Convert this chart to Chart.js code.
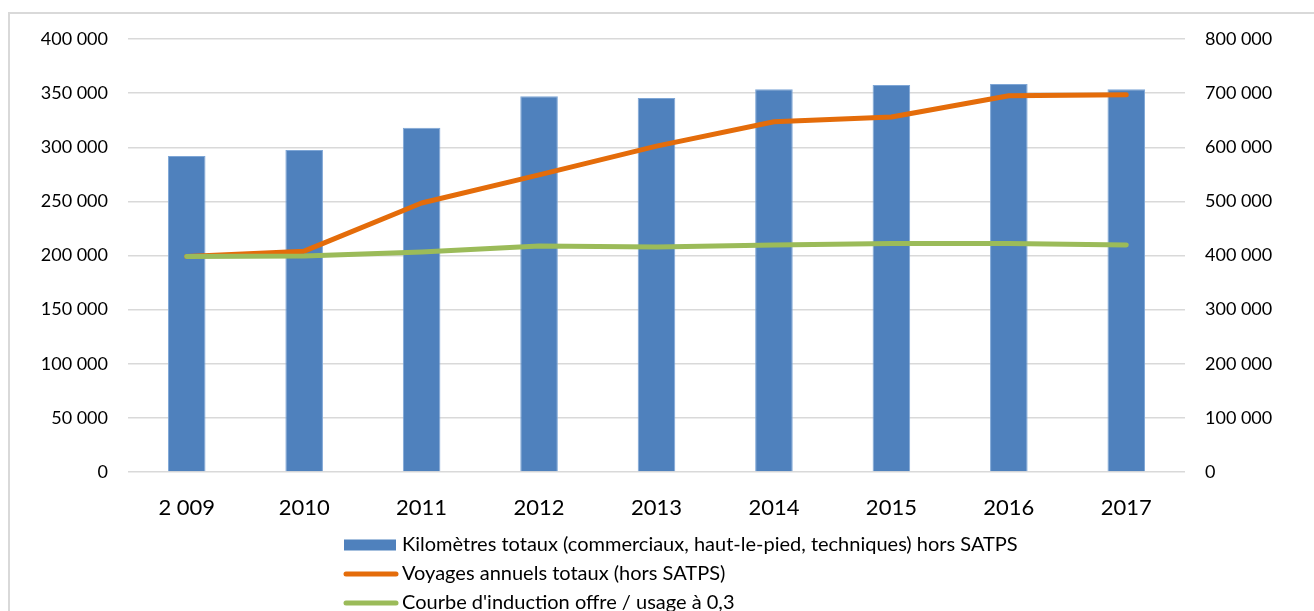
<!DOCTYPE html>
<html>
<head>
<meta charset="utf-8">
<script src="https://cdn.jsdelivr.net/npm/chart.js@4/dist/chart.umd.min.js"></script>
<style>
  body { margin: 0; background: #fff; }
  #wrap { width: 1314px; height: 611px; }
</style>
</head>
<body>
<div id="wrap"><canvas id="grafico" width="1314" height="611"></canvas></div>
<script>
const annees = ['2 009', '2010', '2011', '2012', '2013', '2014', '2015', '2016', '2017'];
const kilometres = [292000, 297500, 318000, 347000, 345500, 353500, 357500, 358500, 353500];
const voyages = [398000, 408000, 497000, 549000, 602000, 647000, 656000, 695000, 697000];
const induction = [398000, 399000, 406500, 417500, 415500, 419500, 422000, 422000, 419500];

const nomKm = 'Kilomètres totaux (commerciaux, haut-le-pied, techniques) hors SATPS';
const nomVoyages = 'Voyages annuels totaux (hors SATPS)';
const nomInduction = "Courbe d'induction offre / usage à 0,3";

const police = 'Lato, "Open Sans", sans-serif';

function milliers(v) {
    return String(v).replace(/\B(?=(\d{3})+(?!\d))/g, ' ');
}

// cadre gris autour du graphique
const cadre = {
    id: 'cadre',
    beforeDraw(chart) {
        const ctx = chart.ctx;
        ctx.save();
        ctx.strokeStyle = '#d9d9d9';
        ctx.lineWidth = 2;
        ctx.beginPath();
        ctx.moveTo(9, 620);
        ctx.lineTo(9, 13);
        ctx.lineTo(1320, 13);
        ctx.stroke();
        ctx.restore();
    }
};

// légende verticale, alignée à gauche
const legende = {
    id: 'legende',
    afterDraw(chart) {
        const ctx = chart.ctx;
        const x0 = 344, y0 = 545, pas = 29;
        ctx.save();
        ctx.font = '20px ' + police;
        ctx.textBaseline = 'middle';
        chart.data.datasets.forEach(function(ds, i) {
            const y = y0 + i * pas;
            if (ds.type === 'bar') {
                ctx.fillStyle = ds.backgroundColor;
                ctx.fillRect(x0, y - 5.5, 52, 11);
            } else {
                ctx.strokeStyle = ds.borderColor;
                ctx.lineWidth = 5;
                ctx.lineCap = 'round';
                ctx.beginPath();
                ctx.moveTo(x0 + 2, y);
                ctx.lineTo(x0 + 52, y);
                ctx.stroke();
            }
            ctx.fillStyle = '#000';
            ctx.fillText(ds.label, x0 + 58, y);
        });
        ctx.restore();
    }
};

const ctx = document.getElementById('grafico').getContext('2d');
const chart = new Chart(ctx, {
    data: {
        labels: annees,
        datasets: [
            {
                type: 'bar',
                label: nomKm,
                data: kilometres,
                backgroundColor: '#4f81bd',
                borderColor: '#7ea6d6',
                borderWidth: 1,
                categoryPercentage: 1,
                barPercentage: 0.32,
                yAxisID: 'y',
                order: 3
            },
            {
                type: 'line',
                label: nomVoyages,
                data: voyages,
                borderColor: '#e46c0a',
                borderWidth: 5,
                borderCapStyle: 'round',
                borderJoinStyle: 'round',
                pointRadius: 0,
                tension: 0,
                yAxisID: 'y1',
                order: 2
            },
            {
                type: 'line',
                label: nomInduction,
                data: induction,
                borderColor: '#9bbb59',
                borderWidth: 5,
                borderCapStyle: 'round',
                borderJoinStyle: 'round',
                pointRadius: 0,
                tension: 0,
                yAxisID: 'y1',
                order: 1
            }
        ]
    },
    options: {
        responsive: false,
        animation: false,
        layout: { padding: { top: 39, left: 0, right: 0, bottom: 0 } },
        plugins: {
            legend: { display: false },
            tooltip: { enabled: false }
        },
        scales: {
            x: {
                grid: { display: false },
                border: { display: false },
                ticks: {
                    color: '#000',
                    font: { family: police, size: 22 },
                    padding: 15,
                    maxRotation: 0
                },
                afterFit(scale) { scale.height = 139; }
            },
            y: {
                position: 'left',
                min: 0,
                max: 400000,
                grid: { color: '#d9d9d9', lineWidth: 1.5, drawTicks: false },
                border: { display: false },
                ticks: {
                    stepSize: 50000,
                    color: '#000',
                    font: { family: police, size: 18 },
                    padding: 20,
                    callback: milliers
                },
                afterFit(scale) { scale.width = 128; }
            },
            y1: {
                position: 'right',
                min: 0,
                max: 800000,
                grid: { display: false, drawTicks: false },
                border: { display: false },
                ticks: {
                    stepSize: 100000,
                    color: '#000',
                    font: { family: police, size: 18 },
                    padding: 20,
                    callback: milliers
                },
                afterFit(scale) { scale.width = 129; }
            }
        }
    },
    plugins: [cadre, legende]
});
</script>
</body>
</html>
